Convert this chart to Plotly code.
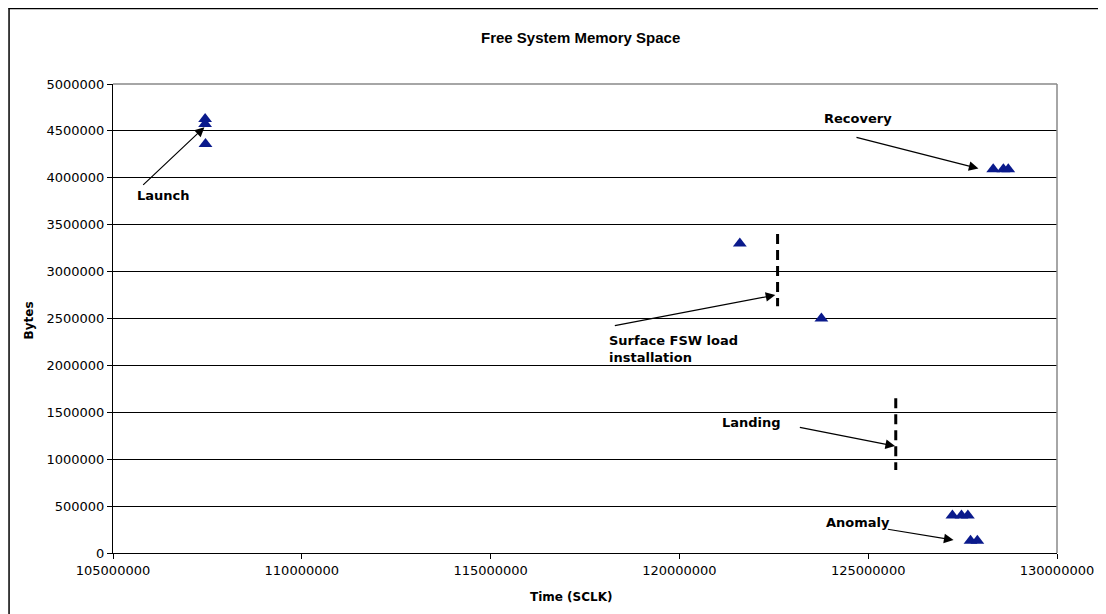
import plotly.graph_objects as go

# ---- data (SCLK time, free bytes) ----
launch_t = [107440000, 107440000, 107450000]
launch_b = [4627000, 4574000, 4360000]
mid_t = [121600000, 123760000]
mid_b = [3300000, 2500000]
recovery_t = [128310000, 128580000, 128710000]
recovery_b = [4090000, 4090000, 4090000]
anomaly_hi_t = [127230000, 127470000, 127640000]
anomaly_hi_b = [400000, 400000, 400000]
anomaly_lo_t = [127710000, 127890000]
anomaly_lo_b = [130000, 130000]

# event markers (dashed vertical lines)
fsw_load_t = [122600000, 122600000]
fsw_load_b = [3400000, 2630000]
landing_t = [125730000, 125730000]
landing_b = [1650000, 885000]

x_ticks = [105000000, 110000000, 115000000, 120000000, 125000000, 130000000]
y_ticks = list(range(0, 5000001, 500000))

FONT = "DejaVu Sans"
MARK = "#0a1a8c"

all_t = launch_t + mid_t + recovery_t + anomaly_hi_t + anomaly_lo_t
all_b = launch_b + mid_b + recovery_b + anomaly_hi_b + anomaly_lo_b

# page body has an 8px margin
OFF = 8
W, H = 1106 - OFF, 614 - OFF
L, T = 113 - OFF, 84 - OFF
R = W - (1062 - OFF)
B = H - (553 - OFF)
pw, ph = W - L - R, H - T - B


def px_x(p):
    return (p - OFF - L) / pw


def px_y(p):
    return (H - B - (p - OFF)) / ph


fig = go.Figure()
for xs, ys in [(fsw_load_t, fsw_load_b), (landing_t, landing_b)]:
    fig.add_trace(go.Scatter(x=xs, y=ys, mode="lines",
                             line=dict(color="black", width=3, dash="10px,6px"),
                             showlegend=False, hoverinfo="skip"))
fig.add_trace(go.Scatter(x=all_t, y=all_b, mode="markers",
                         marker=dict(symbol="triangle-up", size=12, color=MARK,
                                     line=dict(width=0)),
                         showlegend=False))

# annotations: (text, text_x, text_y, xanchor, tail_x, tail_y, head_x, head_y)
notes = [
    ("Launch", 106340000, 3810000, "center", 105760000, 3910000, 107420000, 4540000),
    ("Recovery", 124730000, 4630000, "center", 124650000, 4435000, 127920000, 4100000),
    ("Surface FSW load<br>installation", 118090000, 2175000, "left", 118250000, 2420000, 122540000, 2750000),
    ("Landing", 121910000, 1386000, "center", 123150000, 1343000, 125710000, 1140000),
    ("Anomaly", 124730000, 320000, "center", 125480000, 256000, 127260000, 139000),
]
for txt, tx, ty, xa, ax, ay, hx, hy in notes:
    fig.add_annotation(x=tx, y=ty, text="<b>%s</b>" % txt, showarrow=False,
                       xanchor=xa, yanchor="middle", align="left",
                       font=dict(family=FONT, size=13, color="black"))
    fig.add_annotation(x=hx, y=hy, ax=ax, ay=ay, axref="x", ayref="y", text="",
                       showarrow=True, arrowhead=2, arrowsize=1.6, arrowwidth=1.2,
                       arrowcolor="black", standoff=0, startstandoff=0)

# titles
fig.add_annotation(x=px_x(583), y=px_y(37), xref="paper", yref="paper",
                   xanchor="center", yanchor="middle",
                   text="<b>Free System Memory Space</b>", showarrow=False,
                   font=dict(family="Liberation Sans", size=15, color="black"))
fig.add_annotation(x=px_x(573), y=px_y(597), xref="paper", yref="paper", text="<b>Time (SCLK)</b>",
                   xanchor="center", yanchor="middle",
                   showarrow=False, font=dict(family=FONT, size=12, color="black"))
fig.add_annotation(x=px_x(29), y=px_y(320), xref="paper", yref="paper", text="<b>Bytes</b>",
                   xanchor="center", yanchor="middle",
                   textangle=-90, showarrow=False, font=dict(family=FONT, size=12, color="black"))

# frame and plot border
fig.add_shape(type="line", xref="paper", yref="paper", x0=px_x(8.5), x1=px_x(8.5), y0=px_y(8), y1=px_y(620),
              line=dict(color="black", width=1.5))
fig.add_shape(type="line", xref="paper", yref="paper", x0=px_x(8), x1=px_x(1110), y0=px_y(8.5), y1=px_y(8.5),
              line=dict(color="black", width=1.5))
fig.add_shape(type="line", xref="paper", yref="paper", x0=0, x1=1, y0=1, y1=1,
              line=dict(color="#888888", width=1.5))
fig.add_shape(type="line", xref="paper", yref="paper", x0=1, x1=1, y0=0, y1=1,
              line=dict(color="#888888", width=1.5))

fig.update_layout(
    width=W, height=H,
    margin=dict(l=L, r=R, t=T, b=B, pad=0),
    paper_bgcolor="white", plot_bgcolor="white",
    font=dict(family=FONT, size=13, color="black"),
    showlegend=False,
)
fig.update_xaxes(range=[105000000, 130000000], tickvals=x_ticks, ticktext=[str(v) for v in x_ticks],
                 showgrid=False, zeroline=False, showline=True, linecolor="black", linewidth=1,
                 ticks="outside", ticklen=5, tickcolor="black", tickfont=dict(size=13))
fig.update_yaxes(range=[0, 5000000], tickvals=y_ticks, ticktext=[str(v) for v in y_ticks],
                 showgrid=True, gridcolor="black", gridwidth=1, zeroline=False,
                 showline=True, linecolor="black", linewidth=1,
                 ticks="outside", ticklen=5, tickcolor="black", tickfont=dict(size=13))

fig.write_html("out.html")
